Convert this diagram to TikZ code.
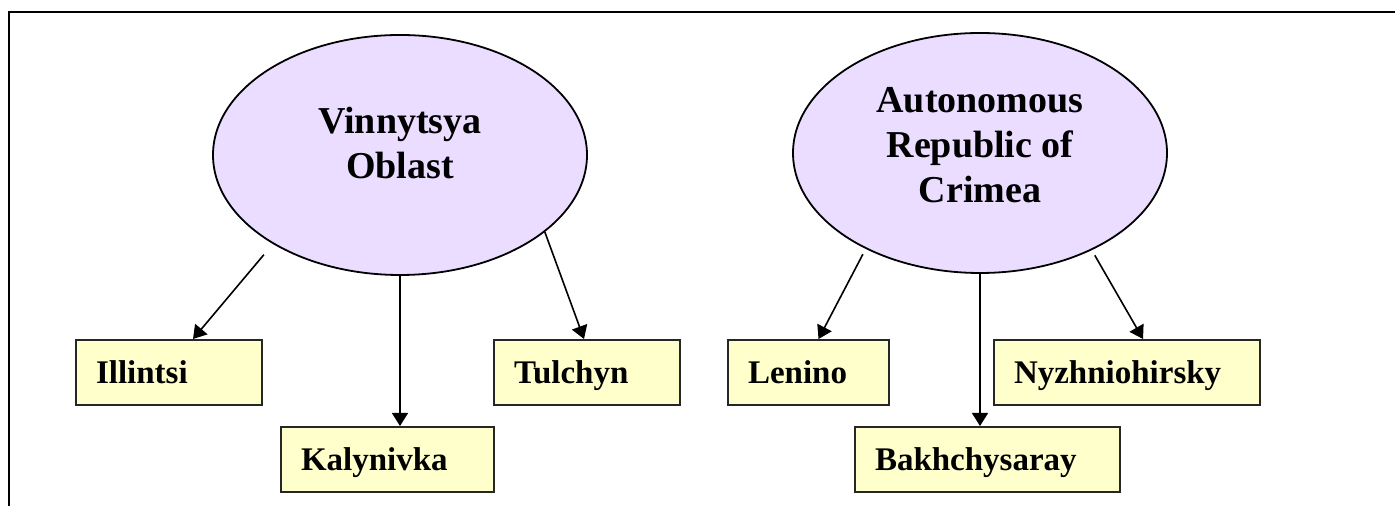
\documentclass[tikz,border=0pt]{standalone}
\usepackage{fontspec}
\setmainfont{Liberation Serif}
\usetikzlibrary{shapes.geometric,arrows.meta,calc}
\definecolor{lavend}{RGB}{235,221,255}
\definecolor{paleyel}{RGB}{255,255,204}

\begin{document}
\begin{tikzpicture}[x=0.5pt,y=-0.5pt,
    region/.style={ellipse,draw,line width=0.9pt,fill=lavend,minimum width=187pt,minimum height=120pt,inner sep=0pt},
    regtext/.style={font=\fontsize{19}{22.5}\selectfont\bfseries,align=center},
    district/.style={draw=black!85,line width=1pt,fill=paleyel,anchor=north west,minimum height=32.5pt,inner xsep=10pt,inner ysep=0pt,text height=11pt,text depth=0pt,align=left,font=\fontsize{16.5}{20}\selectfont\bfseries},
    link/.style={-{Triangle[length=6.5pt,width=8pt]},line width=0.8pt}]
        \useasboundingbox (0,0) rectangle (1395,506);
        \draw[line width=1pt] (9,506) -- (9,12) -- (1395,12);
        % Vinnytsya Oblast
        \node[region,label={[regtext,yshift=6pt]center:Vinnytsya\\Oblast}] (vin) at (400,155) {};
        \node[district,text width=73pt] (ill) at (75,339) {Illintsi};
        \node[district,text width=86.5pt] (kal) at (280,426) {Kalynivka};
        \node[district,text width=73pt] (tul) at (493,339) {Tulchyn};
        \draw[link,shorten <=7pt] (vin.215) -- ($(ill.north)+(24,0)$);
        \draw[link] (vin.south) -- (vin.south |- kal.north);
        \draw[link] (vin.332) -- ($(tul.north)+(-3,0)$);
        % Autonomous Republic of Crimea
        \node[region,label={[regtext,yshift=4pt]center:Autonomous\\Republic of\\Crimea}] (cri) at (980,153) {};
        \node[district,text width=60.5pt] (len) at (727,339) {Lenino};
        \node[district,text width=112.5pt] (bak) at (854,426) {Bakhchysaray};
        \node[district,text width=113pt] (nyz) at (993,339) {Nyzhniohirsky};
        \draw[link,shorten <=3pt] (cri.220) -- ($(len.north)+(10,0)$);
        \draw[link] (cri.south) -- (cri.south |- bak.north);
        \draw[link,shorten <=3pt] (cri.319) -- ($(nyz.north)+(16,0)$);
\end{tikzpicture}
\end{document}
